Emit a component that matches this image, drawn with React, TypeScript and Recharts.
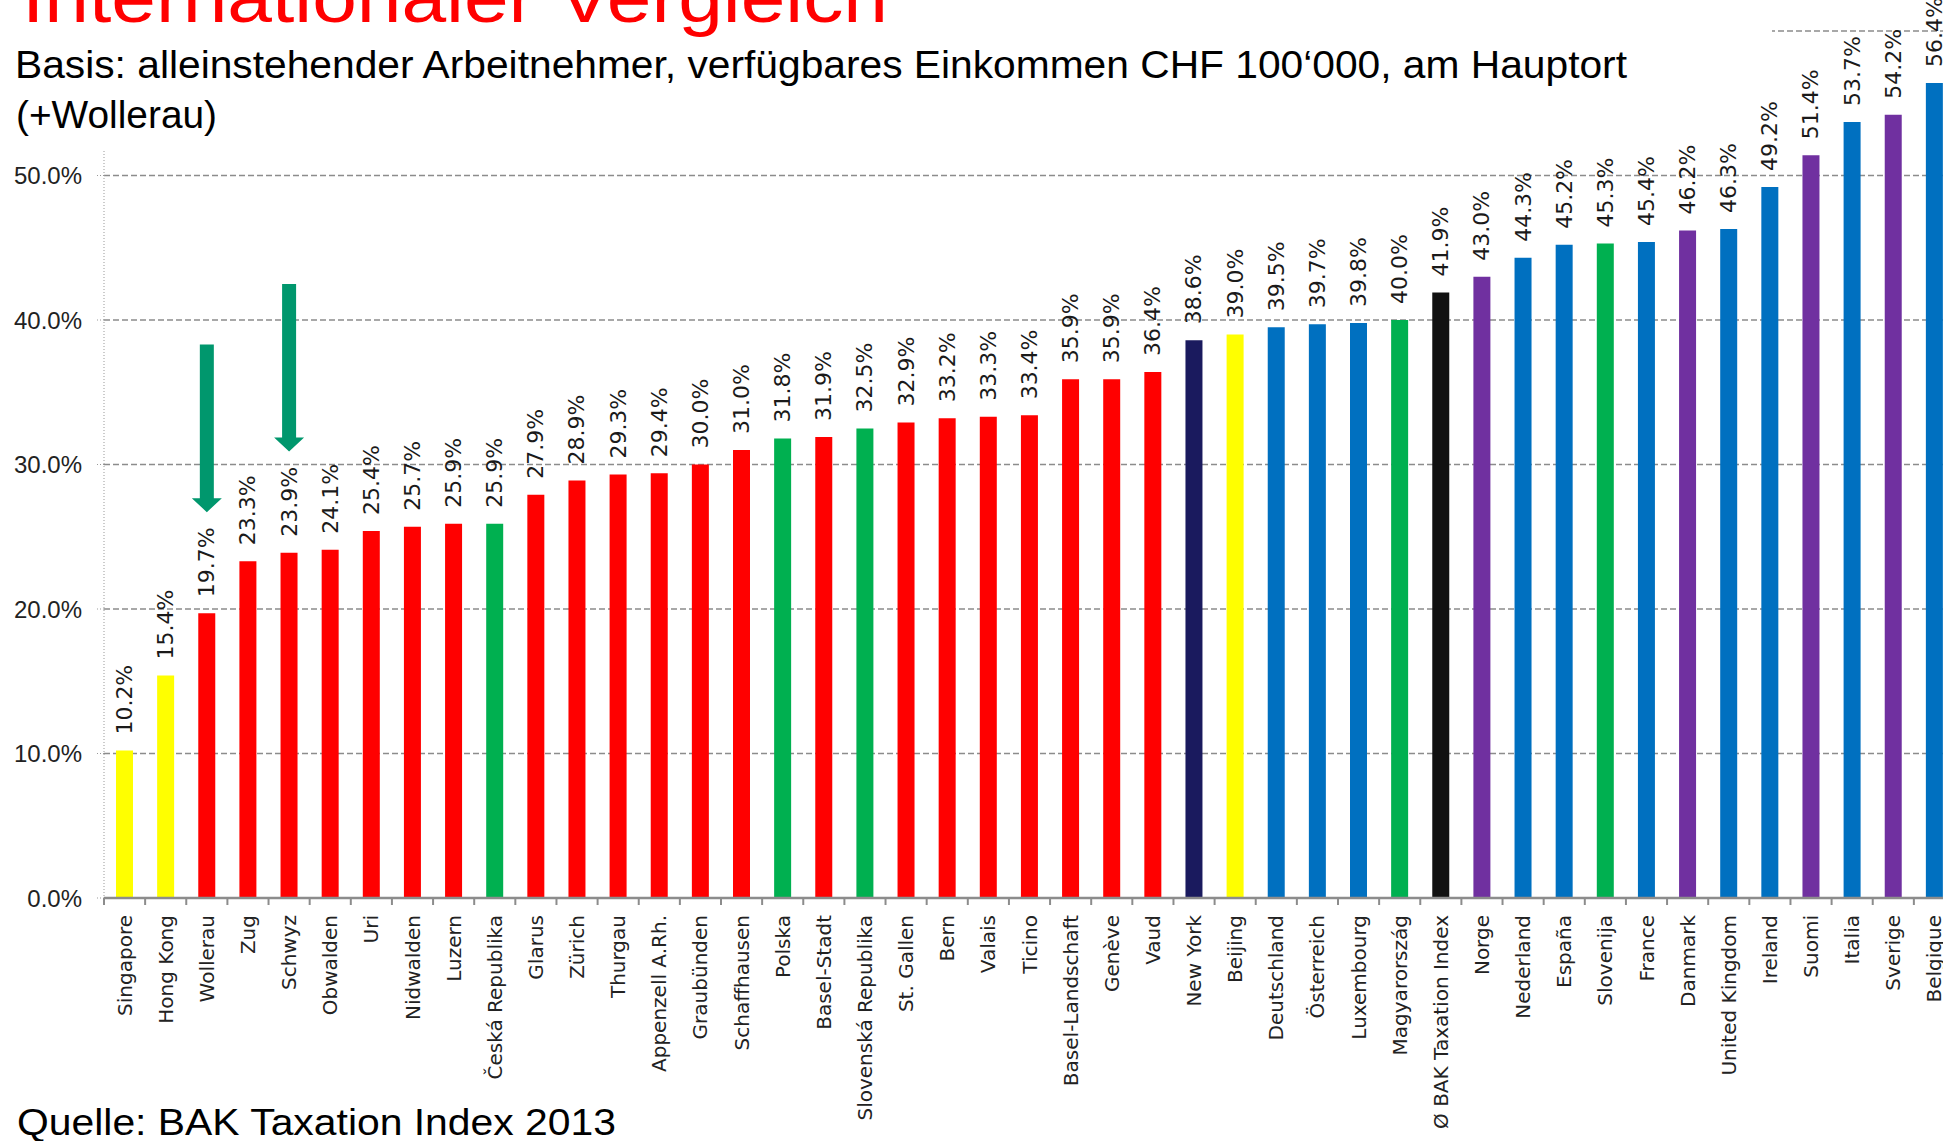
import React from 'react';
import { BarChart, Bar, XAxis, YAxis, CartesianGrid, Cell, LabelList, ReferenceLine } from 'recharts';

const categories = [
  'Singapore', 'Hong Kong', 'Wollerau', 'Zug', 'Schwyz', 'Obwalden', 'Uri', 'Nidwalden', 'Luzern',
  'Česká Republika', 'Glarus', 'Zürich', 'Thurgau', 'Appenzell A.Rh.', 'Graubünden', 'Schaffhausen',
  'Polska', 'Basel-Stadt', 'Slovenská Republika', 'St. Gallen', 'Bern', 'Valais', 'Ticino',
  'Basel-Landschaft', 'Genève', 'Vaud', 'New York', 'Beijing', 'Deutschland', 'Österreich',
  'Luxembourg', 'Magyarország', 'Ø BAK Taxation Index', 'Norge', 'Nederland', 'España', 'Slovenija',
  'France', 'Danmark', 'United Kingdom', 'Ireland', 'Suomi', 'Italia', 'Sverige', 'Belgique',
];

const taxBurden = [
  10.2, 15.4, 19.7, 23.3, 23.9, 24.1, 25.4, 25.7, 25.9,
  25.9, 27.9, 28.9, 29.3, 29.4, 30.0, 31.0,
  31.8, 31.9, 32.5, 32.9, 33.2, 33.3, 33.4,
  35.9, 35.9, 36.4, 38.6, 39.0, 39.5, 39.7,
  39.8, 40.0, 41.9, 43.0, 44.3, 45.2, 45.3,
  45.4, 46.2, 46.3, 49.2, 51.4, 53.7, 54.2, 56.4,
];

const regions = [
  'asia', 'asia', 'ch', 'ch', 'ch', 'ch', 'ch', 'ch', 'ch',
  'east', 'ch', 'ch', 'ch', 'ch', 'ch', 'ch',
  'east', 'ch', 'east', 'ch', 'ch', 'ch', 'ch',
  'ch', 'ch', 'ch', 'us', 'asia', 'west', 'west',
  'west', 'east', 'avg', 'nordic', 'west', 'west', 'east',
  'west', 'nordic', 'west', 'west', 'nordic', 'west', 'nordic', 'west',
];

const yTicks = [0, 10, 20, 30, 40, 50, 60];

// arrows pointing at Wollerau and Schwyz
const arrowTargets = ['Wollerau', 'Schwyz'];
const arrowTops = [38.3, 42.5];
const arrowTips = [26.7, 30.9];

const regionColors: Record<string, string> = {
  asia: '#ffff00',
  ch: '#ff0000',
  east: '#00b050',
  us: '#1a1a5e',
  west: '#0070c0',
  avg: '#111111',
  nordic: '#7030a0',
};

const data = categories.map((name, i) => ({ name, value: taxBurden[i], region: regions[i] }));

const CategoryTick = (props: any) => {
  const { x, y, payload } = props;
  const half = payload && typeof payload.offset === 'number' && payload.offset > 0 ? payload.offset : 20.6;
  return (
    <g>
      <line x1={x - half} y1={y} x2={x - half} y2={y + 7} stroke="#8c8c8c" strokeWidth={2} />
      <text
        transform={`translate(${x},${y + 17}) rotate(-90)`}
        textAnchor="end"
        dominantBaseline="central"
        fontFamily="DejaVu Sans"
        fontSize={20}
        fill="#222"
      >
        {payload.value}
      </text>
    </g>
  );
};

const ValueLabel = (props: any) => {
  const { x, y, width, value } = props;
  return (
    <text
      transform={`translate(${Number(x) + Number(width) / 2},${Number(y) - 16}) rotate(-90)`}
      textAnchor="start"
      dominantBaseline="central"
      fontFamily="DejaVu Sans"
      fontSize={22}
      fill="#1a1a1a"
    >
      {Number(value).toFixed(1)}%
    </text>
  );
};

const DownArrow = (props: any) => {
  const { x1, y1, y2 } = props;
  const top = Math.min(y1, y2);
  const tip = Math.max(y1, y2);
  const headH = 14;
  const pts = [
    [x1 - 7, top], [x1 + 7, top], [x1 + 7, tip - headH], [x1 + 15, tip - headH],
    [x1, tip], [x1 - 15, tip - headH], [x1 - 7, tip - headH],
  ].map((p) => p.join(',')).join(' ');
  return <polygon points={pts} fill="#00976d" />;
};

export default function App() {
  return (
    <div style={{ position: 'absolute', left: 0, top: 0, width: 1943, height: 1141, overflow: 'hidden', background: '#fff' }}>
      <BarChart width={1962} height={1141} data={data} margin={{ top: 31, right: 7, bottom: 0, left: 0 }}>
        <CartesianGrid vertical={false} stroke="#8c8c8c" strokeDasharray="6 3" strokeWidth={1.5} />
        <YAxis
          domain={[0, 60]}
          ticks={yTicks}
          width={104}
          tickSize={7}
          tickMargin={15}
          axisLine={{ stroke: '#999', strokeDasharray: '1 2' }}
          tickLine={{ stroke: '#999', strokeDasharray: '1 2' }}
          tick={{ fontFamily: 'Liberation Sans', fontSize: 24, fill: '#222' }}
          tickFormatter={(v: number) => `${v.toFixed(1)}%`}
        />
        <XAxis
          dataKey="name"
          interval={0}
          height={243}
          tickSize={0}
          tickMargin={0}
          tickLine={false}
          axisLine={{ stroke: '#8c8c8c', strokeWidth: 2.5 }}
          tick={CategoryTick}
        />
        <Bar dataKey="value" barSize={17} isAnimationActive={false}>
          {data.map((d) => (
            <Cell key={d.name} fill={regionColors[d.region]} />
          ))}
          <LabelList dataKey="value" content={ValueLabel} />
        </Bar>
        {arrowTargets.map((t, i) => (
          <ReferenceLine
            key={t}
            segment={[{ x: t, y: arrowTops[i] }, { x: t, y: arrowTips[i] }]}
            shape={DownArrow}
          />
        ))}
      </BarChart>
      <svg width={1943} height={1141} style={{ position: 'absolute', left: 0, top: 0, pointerEvents: 'none' }}>
        {/* the heading box hides the top of the y axis and the 60% line */}
        <rect x={0} y={0} width={112} height={151} fill="#fff" />
        <rect x={0} y={25} width={1772} height={12} fill="#fff" />
        <text x={22} y={22} fontFamily="Liberation Sans" fontSize={70} fill="#ff0000" textLength={866} lengthAdjust="spacingAndGlyphs">
          Internationaler Vergleich
        </text>
        <text x={15} y={78} fontFamily="Liberation Sans" fontSize={38} fill="#000" textLength={1612} lengthAdjust="spacingAndGlyphs">
          Basis: alleinstehender Arbeitnehmer, verfügbares Einkommen CHF 100‘000, am Hauptort
        </text>
        <text x={16} y={128} fontFamily="Liberation Sans" fontSize={38} fill="#000" textLength={201} lengthAdjust="spacingAndGlyphs">
          (+Wollerau)
        </text>
        <text x={17} y={1135} fontFamily="Liberation Sans" fontSize={36} fill="#000" textLength={599} lengthAdjust="spacingAndGlyphs">
          Quelle: BAK Taxation Index 2013
        </text>
      </svg>
    </div>
  );
}
